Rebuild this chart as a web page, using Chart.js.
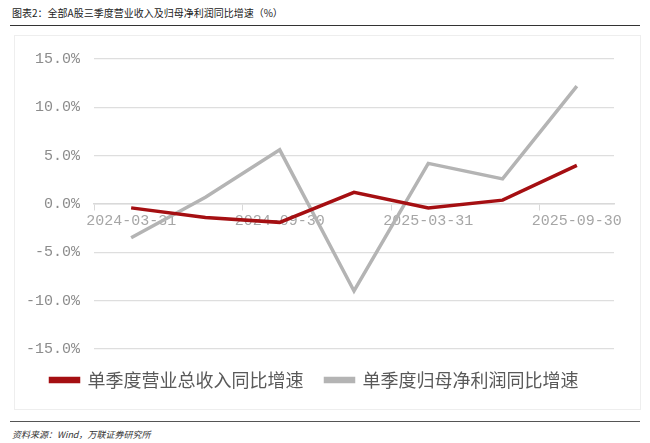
<!DOCTYPE html>
<html>
<head>
<meta charset="utf-8">
<script src="https://cdn.jsdelivr.net/npm/chart.js@4/dist/chart.umd.min.js"></script>
<style>
  body { margin: 0; width: 650px; height: 443px; background: #fff; position: relative; font-family: 'Noto Sans CJK SC', sans-serif; overflow: hidden; }
  .title { position: absolute; left: 12px; top: 5px; font-size: 10px; color: #222; }
  .rule { position: absolute; left: 10px; right: 10px; height: 1px; background: #333; }
  .box { position: absolute; left: 14px; top: 35px; width: 625px; height: 373px; border: 1px solid #eee; }
  .source { position: absolute; left: 12px; top: 428px; font-size: 9px; color: #333; font-style: italic; }
</style>
</head>
<body>
<div class="title">图表2：全部A股三季度营业收入及归母净利润同比增速（%）</div>
<div class="rule" style="top:25px"></div>
<div class="box"><canvas id="chart" width="625" height="373"></canvas></div>
<div class="rule" style="top:421px;background:#555"></div>
<div class="source">资料来源：Wind，万联证券研究所</div>
<script>
const categories = ['2024-03-31', '2024-06-30', '2024-09-30', '2024-12-31', '2025-03-31', '2025-06-30', '2025-09-30'];
const revenueGrowth = [-0.4, -1.4, -1.9, 1.2, -0.4, 0.4, 4.0];
const profitGrowth = [-3.5, 0.7, 5.6, -9.0, 4.2, 2.6, 12.2];

new Chart(document.getElementById('chart'), {
  type: 'line',
  data: {
    labels: categories,
    datasets: [
      { label: '单季度营业总收入同比增速', data: revenueGrowth, borderColor: '#a50f12', backgroundColor: '#a50f12', borderWidth: 3.5, pointRadius: 0, tension: 0 },
      { label: '单季度归母净利润同比增速', data: profitGrowth, borderColor: '#b4b4b4', backgroundColor: '#b4b4b4', borderWidth: 3.5, pointRadius: 0, tension: 0 },
    ],
  },
  options: {
    responsive: false,
    animation: false,
    layout: { padding: { left: 0, right: 26, top: 7, bottom: 10 } },
    scales: {
      x: {
        position: { y: 0 },
        offset: true,
        grid: {
          offset: true,
          drawOnChartArea: false,
          tickLength: 6,
          color: (ctx) => (ctx.index % 2 === 0 || ctx.index === 7 ? '#d9d9d9' : 'rgba(0,0,0,0)'),
        },
        border: { color: '#d9d9d9', width: 1.5 },
        ticks: {
          autoSkip: false,
          maxRotation: 0,
          color: '#a6a6a6',
          font: { family: "'Liberation Mono', monospace", size: 15 },
          padding: 2,
          callback: (v, i) => (i % 2 === 0 ? categories[i] : ''),
        },
      },
      y: {
        min: -15,
        max: 15,
        afterFit: (s) => { s.width = 79; },
        ticks: {
          stepSize: 5,
          color: '#8c8c8c',
          font: { family: "'Liberation Mono', monospace", size: 15 },
          padding: 14,
          callback: (v) => v.toFixed(1) + '%',
        },
        grid: { color: '#dedede', lineWidth: 1.2, drawTicks: false },
        border: { display: false },
      },
    },
    plugins: {
      legend: {
        position: 'bottom',
        labels: {
          color: '#595959',
          font: { family: "'Noto Sans CJK SC', sans-serif", size: 18 },
          boxWidth: 28,
          boxHeight: 3,
          padding: 22,
        },
      },
      tooltip: { enabled: false },
    },
  },
});
</script>
</body>
</html>
